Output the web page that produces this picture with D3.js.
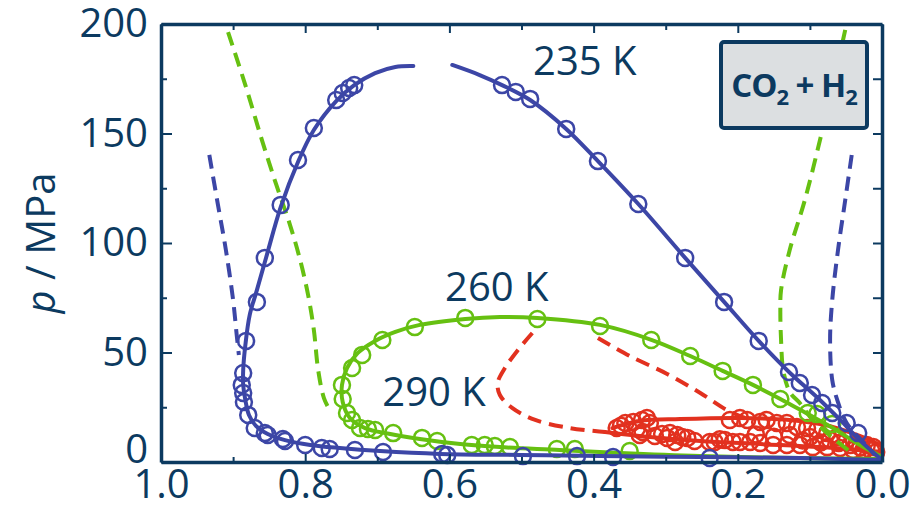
<!DOCTYPE html>
<html><head><meta charset="utf-8">
<script src="https://cdn.jsdelivr.net/npm/d3@7"></script>
<style>
html,body{margin:0;padding:0;background:#fff;}
svg text{font-family:"Open Sans","Noto Sans",sans-serif;}
</style></head>
<body>
<svg id="chart" width="920" height="509"></svg>
<script>
// ---------- data (x = mole fraction, p / MPa) ----------
const xTicks = [1.0, 0.8, 0.6, 0.4, 0.2, 0.0];
const xMinor = [0.9, 0.7, 0.5, 0.3, 0.1];
const yTicks = [0, 50, 100, 150, 200];
const yMinor = [25, 75, 125, 175];
const seriesLabels = ["235 K", "260 K", "290 K"];

// 235 K
const blueSolidA = [[0.000,0.9],[0.114,1.8],[0.252,2.3],[0.391,2.7],[0.502,3.2],[0.613,3.7],[0.696,5.0],[0.752,6.4],[0.793,7.8],[0.828,10.0],[0.852,12.8],[0.868,16.4],[0.878,21.5],[0.883,28.3],[0.886,35.2],[0.886,42.0],[0.883,53.4],[0.877,67.1],[0.867,78.5],[0.854,93.6],[0.834,116.4],[0.810,137.0],[0.788,151.6],[0.757,164.8],[0.732,172.1],[0.703,177.6],[0.675,180.4],[0.650,180.8]];
const blueSolidB = [[0.596,181.3],[0.558,176.7],[0.527,172.1],[0.488,165.3],[0.438,152.1],[0.394,137.4],[0.338,117.8],[0.273,93.2],[0.219,73.1],[0.171,55.3],[0.129,41.1],[0.089,29.2],[0.058,19.2],[0.031,10.0],[0.000,0.9]];
const blueDashL = [[0.933,140.2],[0.921,117.4],[0.910,96.8],[0.900,74.0],[0.895,58.0],[0.892,48.9]];
const blueDashR = [[0.042,140.2],[0.051,119.6],[0.061,96.8],[0.069,74.0],[0.072,55.7],[0.069,37.4],[0.062,28.3],[0.049,17.8],[0.026,9.1],[0.010,3.2]];
const bluePoints = [[0.882,55.3],[0.886,40.6],[0.888,35.2],[0.886,31.5],[0.885,27.4],[0.879,21.5],[0.870,15.5],[0.856,13.2],[0.852,12.3],[0.831,10.5],[0.828,9.6],[0.800,7.8],[0.777,6.4],[0.766,5.9],[0.731,5.5],[0.692,4.6],[0.610,3.7],[0.603,3.2],[0.498,2.7],[0.423,2.7],[0.373,2.3],[0.239,1.8],
  [0.867,73.1],[0.856,93.2],[0.834,117.4],[0.810,137.9],[0.788,152.5],[0.757,165.3],[0.748,168.5],[0.739,170.8],[0.732,172.1],
  [0.527,172.1],[0.508,169.0],[0.488,165.8],[0.438,152.1],[0.394,137.4],[0.338,117.8],[0.273,93.2],[0.219,73.1],[0.171,55.3],[0.129,41.1],[0.114,36.1],[0.097,30.6],[0.083,26.9],[0.069,22.4],[0.049,17.8],[0.033,13.2]];

// 260 K
const greenSolid = [[0.000,1.4],[0.114,1.8],[0.252,2.7],[0.363,4.1],[0.447,5.5],[0.530,6.8],[0.585,8.2],[0.641,10.5],[0.682,12.8],[0.717,15.5],[0.738,20.1],[0.748,27.4],[0.749,35.2],[0.742,42.9],[0.727,49.8],[0.703,55.3],[0.675,59.4],[0.641,62.6],[0.578,65.3],[0.530,66.2],[0.478,65.8],[0.391,62.6],[0.319,55.7],[0.266,48.4],[0.221,41.6],[0.179,35.2],[0.141,28.8],[0.103,21.9],[0.068,15.5],[0.033,8.2],[0.000,2.3]];
const greenDashL = [[0.907,196.3],[0.883,172.1],[0.860,147.0],[0.840,126.5],[0.821,108.2],[0.807,92.2],[0.796,76.3],[0.788,60.3],[0.782,42.0],[0.774,29.2],[0.766,23.7]];
const greenDashR = [[0.051,197.3],[0.068,172.1],[0.086,147.0],[0.107,119.6],[0.128,96.8],[0.140,78.5],[0.141,69.4],[0.140,55.7],[0.137,42.0],[0.128,32.0],[0.114,26.9],[0.096,19.2],[0.068,11.0],[0.044,4.6]];
const greenPoints = [[0.693,55.7],[0.648,61.6],[0.578,65.8],[0.478,65.3],[0.391,62.1],[0.320,55.7],[0.266,48.4],[0.221,41.6],[0.179,35.2],[0.141,28.8],[0.103,22.4],[0.090,21.9],[0.069,17.4],
  [0.721,48.9],[0.735,42.9],[0.749,35.2],[0.748,28.8],[0.742,22.4],[0.735,19.2],[0.724,15.5],[0.713,15.1],[0.703,14.6],[0.678,13.2],[0.638,11.0],[0.617,9.6],[0.569,7.8],[0.551,7.8],[0.537,7.3],[0.516,6.8],[0.451,5.9],[0.426,5.9],[0.350,5.0]];

// 290 K
const redDashL = [[0.485,58.9],[0.505,51.1],[0.523,42.9],[0.533,36.1],[0.530,30.6],[0.513,24.7],[0.481,19.2],[0.433,15.5],[0.384,13.7]];
const redDashR = [[0.394,56.6],[0.350,48.4],[0.298,40.2],[0.252,31.5],[0.215,23.7],[0.190,20.1]];
const redSolidLow = [[0.384,13.7],[0.322,11.4],[0.252,9.6],[0.169,8.2],[0.086,6.8],[0.000,4.6]];
const redSolidUp = [[0.374,15.5],[0.336,18.7],[0.280,19.6],[0.197,20.1],[0.128,19.2],[0.072,16.4],[0.031,11.9],[0.000,7.3]];
const redPoints = [[0.368,15.5],[0.356,17.8],[0.345,18.3],[0.333,19.2],[0.326,20.1],[0.322,17.8],[0.332,13.7],[0.336,12.3],[0.298,11.0],[0.294,13.2],[0.284,12.3],[0.277,11.4],[0.287,9.1],[0.270,11.0],[0.239,9.1],[0.232,9.1],[0.218,10.0],[0.207,9.1],[0.197,9.1],
  [0.211,19.2],[0.197,20.1],[0.187,19.2],[0.169,18.3],[0.160,19.2],[0.146,17.8],[0.132,17.8],[0.118,16.0],[0.104,15.5],[0.090,14.6],[0.076,13.2],[0.062,11.4],[0.049,10.0],[0.035,8.7],[0.021,7.8],[0.012,6.8],
  [0.183,9.1],[0.169,8.7],[0.151,7.8],[0.132,7.8],[0.114,7.8],[0.096,6.8],[0.076,6.8],[0.058,6.4],[0.040,5.5],[0.026,5.5],
  [0.128,12.3],[0.100,11.4],[0.072,10.0],[0.044,7.8],[0.008,4.6],
  [0.362,16.6],[0.340,15.2],[0.315,11.9],[0.305,12.8],[0.260,9.6],[0.225,10.4],[0.175,12.6],[0.150,11.5],[0.110,9.8],[0.085,8.9],[0.060,8.7],[0.030,6.6],[0.015,5.2]];

// ---------- styles ----------
const NAVY = "#0c3a60";
const BLUE = "#3c46a6", GREEN = "#66c011", RED = "#e2311f";
const M = {left:161, right:882, top:24, bottom:462};

const svg = d3.select("#chart");
const x = d3.scaleLinear().domain([1,0]).range([M.left, M.right]);
const y = d3.scaleLinear().domain([0,200]).range([M.bottom, M.top]);

const line = d3.line().x(d=>x(d[0])).y(d=>y(d[1])).curve(d3.curveCatmullRom.alpha(0.5));

function drawLine(data, color, dashed){
  svg.append("path").datum(data).attr("d", line)
    .attr("fill","none").attr("stroke",color).attr("stroke-width",4)
    .attr("stroke-linecap", dashed ? "butt" : "round")
    .attr("stroke-dasharray", dashed ? "14,8" : null);
}
function drawPoints(data, color){
  svg.append("g").selectAll("circle").data(data).join("circle")
    .attr("cx", d=>x(d[0])).attr("cy", d=>y(d[1])).attr("r", 8)
    .attr("fill","none").attr("stroke",color).attr("stroke-width",2.5);
}

// red
drawLine(redDashL, RED, true); drawLine(redDashR, RED, true);
drawLine(redSolidLow, RED, false); drawLine(redSolidUp, RED, false);
drawPoints(redPoints, RED);
// green
drawLine(greenDashL, GREEN, true); drawLine(greenDashR, GREEN, true);
drawLine(greenSolid, GREEN, false);
drawPoints(greenPoints, GREEN);
// blue
drawLine(blueDashL, BLUE, true); drawLine(blueDashR, BLUE, true);
drawLine(blueSolidA, BLUE, false); drawLine(blueSolidB, BLUE, false);
drawPoints(bluePoints, BLUE);

// ---------- axes ----------
function styleAxis(g){
  g.selectAll("path").attr("stroke",NAVY).attr("stroke-width",3.5);
  g.selectAll("line").attr("stroke",NAVY).attr("stroke-width",2);
  g.selectAll("text").attr("fill",NAVY).attr("font-size",40)
    .attr("font-family",'"Open Sans","Noto Sans",sans-serif');
}
const gB = svg.append("g").attr("transform",`translate(0,${M.bottom})`)
  .call(d3.axisBottom(x).tickValues(xTicks).tickSizeInner(-8).tickSizeOuter(0).tickPadding(8).tickFormat(d3.format(".1f")));
styleAxis(gB);
const gBm = svg.append("g").attr("transform",`translate(0,${M.bottom})`)
  .call(d3.axisBottom(x).tickValues(xMinor).tickSizeInner(-5).tickSizeOuter(0).tickFormat(""));
styleAxis(gBm); gBm.select("path").remove();

const gT = svg.append("g").attr("transform",`translate(0,${M.top})`)
  .call(d3.axisTop(x).tickValues(xTicks).tickSizeInner(-9).tickSizeOuter(0).tickFormat(""));
styleAxis(gT);
const gTm = svg.append("g").attr("transform",`translate(0,${M.top})`)
  .call(d3.axisTop(x).tickValues(xMinor).tickSizeInner(-6).tickSizeOuter(0).tickFormat(""));
styleAxis(gTm); gTm.select("path").remove();

const gL = svg.append("g").attr("transform",`translate(${M.left},0)`)
  .call(d3.axisLeft(y).tickValues(yTicks).tickSizeInner(-11).tickSizeOuter(0).tickPadding(13));
styleAxis(gL);
gL.selectAll(".tick").filter(d=>d===0).select("text").attr("dy","0.0em");
gL.selectAll(".tick").filter(d=>d===200).select("text").attr("dy","0.3em");
const gLm = svg.append("g").attr("transform",`translate(${M.left},0)`)
  .call(d3.axisLeft(y).tickValues(yMinor).tickSizeInner(-6).tickSizeOuter(0).tickFormat(""));
styleAxis(gLm); gLm.select("path").remove();

const gR = svg.append("g").attr("transform",`translate(${M.right},0)`)
  .call(d3.axisRight(y).tickValues(yTicks.concat(yMinor)).tickSizeInner(-9).tickSizeOuter(0).tickFormat(""));
styleAxis(gR);

// y title
svg.append("text").attr("transform",`translate(55,${(M.top+M.bottom)/2}) rotate(-90)`)
  .attr("text-anchor","middle").attr("fill",NAVY).attr("font-size",40)
  .html('<tspan font-style="italic">p</tspan> / MPa');

// series labels
const labelPos = [[0.484,176.5],[0.606,73.5],[0.693,25.6]];
seriesLabels.forEach((t,i)=>{
  svg.append("text").attr("x", x(labelPos[i][0])).attr("y", y(labelPos[i][1]))
    .attr("fill",NAVY).attr("font-size",40).text(t);
});

// legend box
svg.append("rect").attr("x",721).attr("y",42).attr("width",146).attr("height",86).attr("rx",3)
  .attr("fill","#dcdfe1").attr("stroke",NAVY).attr("stroke-width",4);
const lt = svg.append("text").attr("x",794).attr("y",97).attr("text-anchor","middle")
  .attr("fill",NAVY).attr("font-size",33).attr("font-weight","bold").attr("letter-spacing","-1");
lt.append("tspan").text("CO");
lt.append("tspan").attr("font-size",22).attr("dy",8).text("2");
lt.append("tspan").attr("dy",-8).text(" + H");
lt.append("tspan").attr("font-size",22).attr("dy",8).text("2");
</script>
</body></html>
